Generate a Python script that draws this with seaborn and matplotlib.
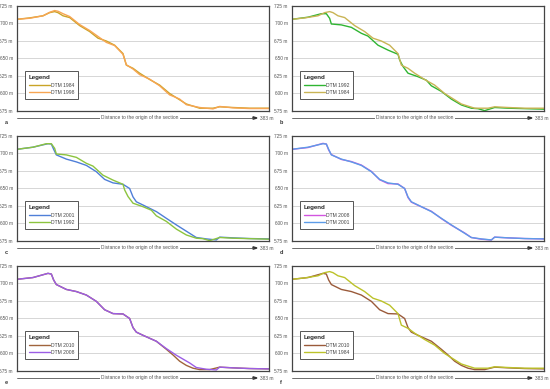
import matplotlib
matplotlib.use("Agg")
import matplotlib.pyplot as plt
import pandas as pd
import seaborn as sns

# elevation profiles (distance along section in m, elevation in m)
dist_1984 = [0, 19.3, 39.5, 49.6, 57.2, 62.3, 69.9, 80, 95.2, 110.4, 123.1, 135.8, 148.4, 161.1,
             166.2, 176.3, 186.4, 201.6, 216.8, 232, 247.2, 257.4, 277.6, 297.9, 308, 328.3, 353.6, 383]
elev_1984 = [706, 708, 711, 715.5, 717, 715.5, 711, 708.5, 697, 688.5, 679, 675, 669, 657,
             640.5, 636, 629, 620, 612, 600, 591, 585, 579, 579, 581, 580, 579, 579]

dist_1998 = [0, 19.3, 39.5, 49.6, 57.2, 62.3, 69.9, 80, 95.2, 110.4, 123.1, 135.8, 148.4, 161.1,
             166.2, 176.3, 186.4, 201.6, 216.8, 232, 240, 247.2, 257.4, 277.6, 297.9, 308, 328.3, 353.6, 383]
elev_1998 = [706, 707.5, 711, 716, 718.5, 717.5, 714, 710, 698.5, 690, 681.5, 673, 668.5, 656,
             641, 635, 627, 620.5, 611, 598, 595, 592, 584, 580, 578, 581.5, 579.5, 578.5, 578.5]

dist_1992 = [0, 24.3, 44.6, 52.2, 57.2, 59.8, 75, 90.2, 105.4, 115.5, 130.7, 145.9, 156, 161.1,
             163.6, 168.7, 176.3, 191.5, 204.2, 211.8, 227, 242.2, 257.4, 272.5, 282.7, 292.8, 308, 328.3, 383]
elev_1992 = [706, 709, 714, 714, 707.4, 699.3, 698, 694.5, 686, 682, 669, 662, 658, 656,
             648, 638.6, 629, 624, 619, 611, 603, 592, 583.6, 579, 578.3, 575.5, 580, 579, 577.6]

dist_2001 = [0, 24.3, 47.1, 52.2, 55.7, 59.8, 75, 90.2, 105.4, 120.6, 133.2, 145.9, 161.1, 171.2,
             176.3, 181.4, 191.5, 211.8, 227, 242.2, 262.4, 272.5, 287.8, 303, 308, 328.3, 353.6, 383]
elev_2001 = [706, 709, 714, 713.5, 706, 698, 692, 688, 683, 674, 663, 658, 656, 650,
             638, 631, 626.4, 617, 607.4, 598, 586, 580, 578, 576.5, 580.5, 579.5, 578.5, 578]

dist_2008 = [0, 24.3, 47.1, 52.2, 55.7, 59.8, 75, 90.2, 105.4, 120.6, 133.2, 145.9, 161.1, 171.2,
             176.3, 181.4, 191.5, 211.8, 227, 242.2, 262.4, 272.5, 287.8, 303, 308, 328.3, 353.6, 383]
elev_2008 = [706, 708.5, 714.5, 713.5, 705, 698.5, 691.5, 688.5, 683.5, 674.5, 662.5, 657, 656.5, 650,
             637, 630.5, 626, 617.5, 607, 597.5, 586.5, 580, 577.5, 576.5, 580.5, 579.5, 578.5, 578]

dist_2010 = [0, 24.3, 47.1, 52.2, 55.7, 59.8, 75, 90.2, 105.4, 120.6, 133.2, 145.9, 161.1, 171.2,
             176.3, 181.4, 191.5, 211.8, 227, 237, 247.2, 257.4, 267.5, 277.6, 292.8, 308, 328.3, 353.6, 383]
elev_2010 = [706, 708.5, 714.5, 713.5, 705, 698.5, 691.5, 688.5, 683.5, 674.5, 662.5, 657, 656.5, 650,
             637, 630.5, 626, 617.5, 606, 598, 589, 583, 579, 577, 577, 580.5, 579.5, 578.5, 578]

profiles = {
    "DTM 1984": (dist_1984, elev_1984),
    "DTM 1998": (dist_1998, elev_1998),
    "DTM 1992": (dist_1992, elev_1992),
    "DTM 2001": (dist_2001, elev_2001),
    "DTM 2008": (dist_2008, elev_2008),
    "DTM 2010": (dist_2010, elev_2010),
}

y_ticks = [575, 600, 625, 650, 675, 700, 725]

# panel letter, first series, second series, colours
panels = [
    ("a", "DTM 1984", "DTM 1998", "#c9a427", "#f7a552"),
    ("b", "DTM 1992", "DTM 1984", "#2fb532", "#c9b455"),
    ("c", "DTM 2001", "DTM 1992", "#4f7fd8", "#8cc43e"),
    ("d", "DTM 2008", "DTM 2001", "#d255e0", "#5c9ce8"),
    ("e", "DTM 2010", "DTM 2008", "#a0643c", "#9b5de5"),
    ("f", "DTM 2010", "DTM 1984", "#9a5a3a", "#bcc22a"),
]

W, H = 550, 389
col_left = [17, 292]
row_top = [6, 136, 266]
box_w, box_h = 252, 105

sns.set_style("white")
plt.rcParams["font.family"] = ["Liberation Sans", "DejaVu Sans"]

fig = plt.figure(figsize=(W / 100, H / 100), dpi=100)


def fx(x):
    return x / W


def fy(y):
    return 1 - y / H


for i, (letter, s1, s2, c1, c2) in enumerate(panels):
    left = col_left[i % 2]
    top = row_top[i // 2]
    ax = fig.add_axes([fx(left), fy(top + box_h), box_w / W, box_h / H])

    rows = []
    for name in (s1, s2):
        d, e = profiles[name]
        rows.append(pd.DataFrame({"dist": d, "elev": e, "series": name}))
    df = pd.concat(rows, ignore_index=True)

    sns.lineplot(data=df, x="dist", y="elev", hue="series", hue_order=[s1, s2],
                 palette={s1: c1, s2: c2}, estimator=None, linewidth=1.0, ax=ax)

    ax.set_xlim(0, 383)
    ax.set_ylim(575, 725)
    ax.set_xticks([])
    ax.set_yticks(y_ticks)
    ax.set_yticklabels([f"{v} m" for v in y_ticks])
    ax.set_xlabel("")
    ax.set_ylabel("")
    ax.grid(axis="y", color="#d6d6d6", linewidth=0.7)
    ax.set_axisbelow(True)
    ax.tick_params(axis="y", labelsize=3.4, colors="#555555", length=2, width=0.5, pad=1)
    for sp in ax.spines.values():
        sp.set_color("#444444")
        sp.set_linewidth(0.9)

    handles, labels = ax.get_legend_handles_labels()
    leg = ax.legend(handles, labels, title="Legend", loc="lower left",
                    bbox_to_anchor=(0.02, 0.09), fontsize=3.6, frameon=True,
                    fancybox=False, edgecolor="#555555", framealpha=1,
                    handlelength=4.2, handletextpad=0.3, borderpad=0.8,
                    labelspacing=0.5, alignment="left",
                    title_fontproperties={"weight": "bold", "size": 4.4})
    leg.get_frame().set_linewidth(0.7)
    for t in leg.get_texts():
        t.set_color("#444444")

    # distance arrow under the panel
    ya = fy(top + box_h + 7)
    fig.add_artist(plt.Line2D([fx(left), fx(left + 236)], [ya, ya],
                              color="#555555", linewidth=0.6))
    fig.add_artist(plt.Polygon([[fx(left + 236), ya + 1.2 / H], [fx(left + 236), ya - 1.2 / H],
                                [fx(left + 240), ya]], closed=True, color="#333333"))
    fig.text(fx(left + 123), ya, "Distance to the origin of the section", fontsize=3.5,
             color="#555555", ha="center", va="center",
             bbox=dict(facecolor="white", edgecolor="none", pad=0.6))
    fig.text(fx(left + 243), ya, "383 m", fontsize=3.5, color="#555555", ha="left", va="center")
    fig.text(fx(left - 12), fy(top + box_h + 12), letter, fontsize=4, color="#333333",
             fontweight="bold", ha="left", va="center")

fig.savefig("out.png", dpi=100)
